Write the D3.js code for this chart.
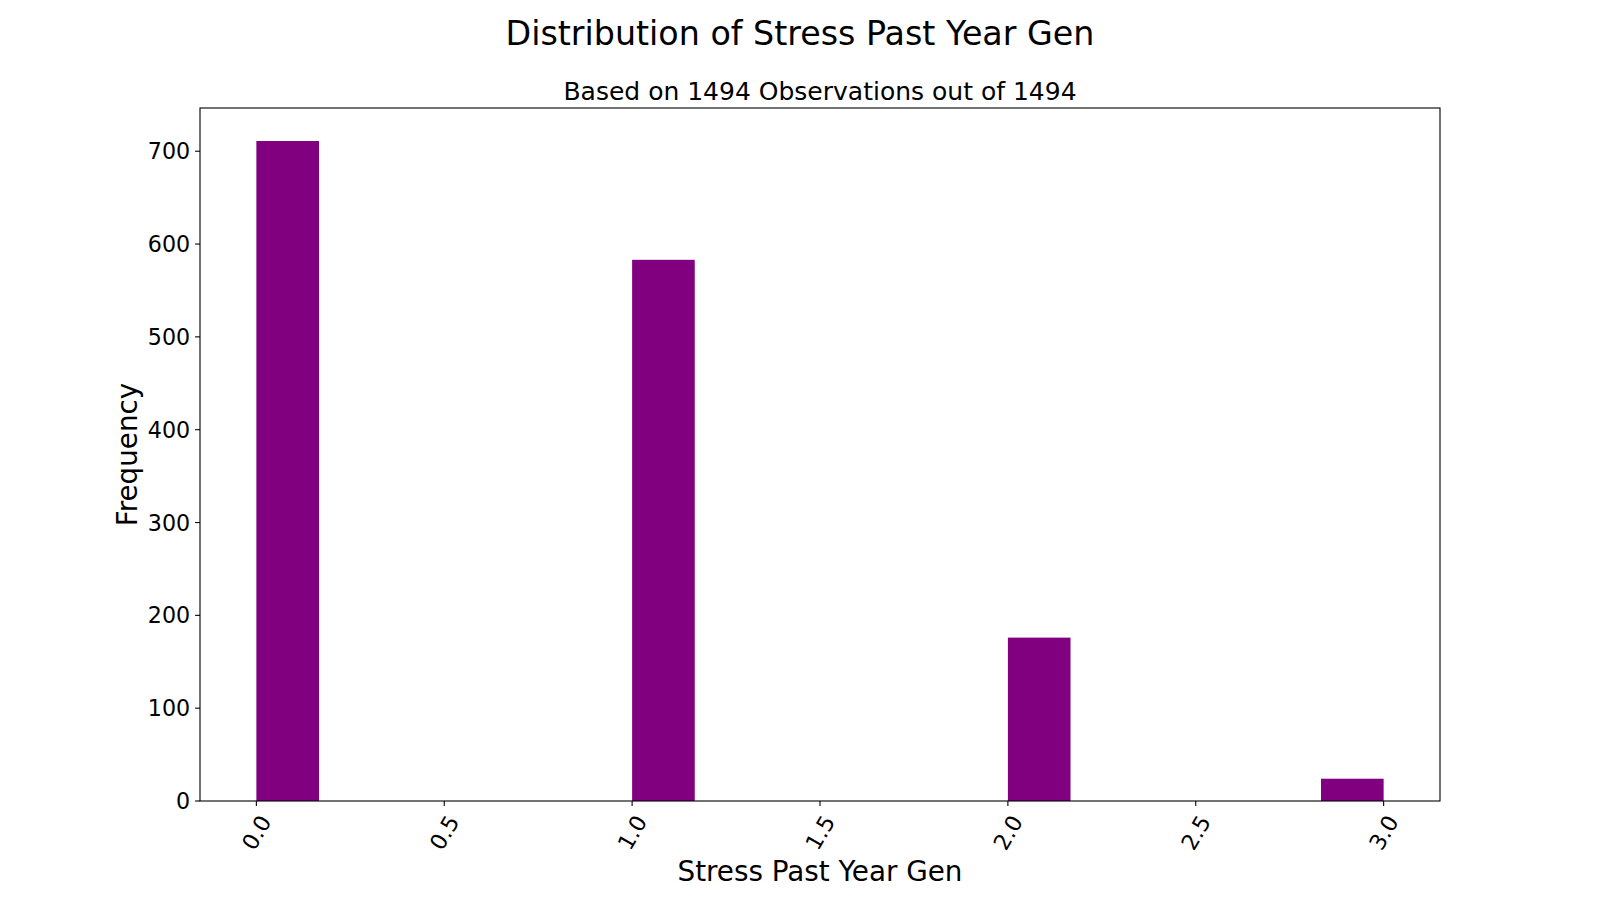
<!DOCTYPE html>
<html>
<head>
<meta charset="utf-8">
<script src="https://cdn.jsdelivr.net/npm/d3@7"></script>
<style>
  body { margin: 0; background: #fff; }
  svg { display: block; font-family: "DejaVu Sans", sans-serif; }
</style>
</head>
<body>
<div id="chart"></div>
<script>
  "use strict";

  // histogram of 18 bins between 0 and 3, only four of them are non empty
  var binCount = 18;
  var binMin = 0;
  var binMax = 3;
  var binStarts = [0, 1, 2, 2.8333];
  var binCounts = [711, 583, 176, 24];

  var xTicks = [0.0, 0.5, 1.0, 1.5, 2.0, 2.5, 3.0];
  var yTicks = [0, 100, 200, 300, 400, 500, 600, 700];

  var titleText = "Distribution of Stress Past Year Gen";
  var subtitleText = "Based on 1494 Observations out of 1494";
  var xLabel = "Stress Past Year Gen";
  var yLabel = "Frequency";

  var width = 1600, height = 900;
  var margin = {left: 200, right: 160, top: 108, bottom: 99};
  var plotW = width - margin.left - margin.right;
  var plotH = height - margin.top - margin.bottom;

  var binWidth = (binMax - binMin) / binCount;

  // matplotlib style 5% padding on x, 5% head room on y
  var pad = (binMax - binMin) * 0.05;
  var x = d3.scaleLinear()
            .domain([binMin - pad, binMax + pad])
            .range([0, plotW]);
  var y = d3.scaleLinear()
            .domain([0, d3.max(binCounts) * 1.05])
            .range([plotH, 0]);

  var svg = d3.select("#chart").append("svg")
              .attr("width", width)
              .attr("height", height);

  svg.append("text")
     .attr("x", width / 2)
     .attr("y", 45)
     .attr("text-anchor", "middle")
     .style("font-size", "33.3px")
     .text(titleText);

  var g = svg.append("g")
             .attr("transform", "translate(" + margin.left + "," + margin.top + ")");

  g.append("text")
   .attr("x", plotW / 2)
   .attr("y", -8)
   .attr("text-anchor", "middle")
   .style("font-size", "25px")
   .text(subtitleText);

  // bars
  g.selectAll("rect.bar")
   .data(binCounts)
   .enter().append("rect")
   .attr("class", "bar")
   .attr("x", function (d, i) { return x(binStarts[i]); })
   .attr("width", function (d, i) { return x(binStarts[i] + binWidth) - x(binStarts[i]); })
   .attr("y", function (d) { return y(d); })
   .attr("height", function (d) { return y(0) - y(d); })
   .attr("fill", "#800080");

  // frame
  g.append("rect")
   .attr("x", 0).attr("y", 0)
   .attr("width", plotW).attr("height", plotH)
   .attr("fill", "none")
   .attr("stroke", "#000")
   .attr("stroke-width", 1.1);

  var tickLen = 4.9, tickPad = 4.9;

  // y axis
  var yAxis = g.append("g").attr("class", "y-axis");
  yAxis.selectAll("line")
       .data(yTicks)
       .enter().append("line")
       .attr("x1", -tickLen).attr("x2", 0)
       .attr("y1", function (d) { return y(d); })
       .attr("y2", function (d) { return y(d); })
       .attr("stroke", "#000")
       .attr("stroke-width", 1.1);
  yAxis.selectAll("text")
       .data(yTicks)
       .enter().append("text")
       .attr("x", -tickLen - tickPad)
       .attr("y", function (d) { return y(d); })
       .attr("text-anchor", "end")
       .attr("dominant-baseline", "central")
       .style("font-size", "22.2px")
       .text(function (d) { return d; });

  // x axis
  var xAxis = g.append("g").attr("class", "x-axis")
               .attr("transform", "translate(0," + plotH + ")");
  xAxis.selectAll("line")
       .data(xTicks)
       .enter().append("line")
       .attr("x1", function (d) { return x(d); })
       .attr("x2", function (d) { return x(d); })
       .attr("y1", 0).attr("y2", tickLen)
       .attr("stroke", "#000")
       .attr("stroke-width", 1.1);

  var fontH = 22.2 * 1.16;
  var sin60 = Math.sin(Math.PI / 3), cos60 = 0.5;
  xAxis.selectAll("text")
       .data(xTicks)
       .enter().append("text")
       .attr("text-anchor", "middle")
       .attr("dominant-baseline", "central")
       .style("font-size", "22.2px")
       .text(function (d) { return d3.format(".1f")(d); })
       .attr("transform", function (d) {
         // rotated box is centred on the tick, its top just under the tick
         var w = this.getComputedTextLength();
         var boxH = w * sin60 + fontH * cos60;
         var cy = tickLen + tickPad + boxH / 2;
         return "translate(" + x(d) + "," + cy + ") rotate(-60)";
       });

  // axis labels
  svg.append("text")
     .attr("x", margin.left + plotW / 2)
     .attr("y", 881)
     .attr("text-anchor", "middle")
     .style("font-size", "27.8px")
     .text(xLabel);

  svg.append("text")
     .attr("transform", "translate(137," + (margin.top + plotH / 2) + ") rotate(-90)")
     .attr("text-anchor", "middle")
     .style("font-size", "27.8px")
     .text(yLabel);
</script>
</body>
</html>
